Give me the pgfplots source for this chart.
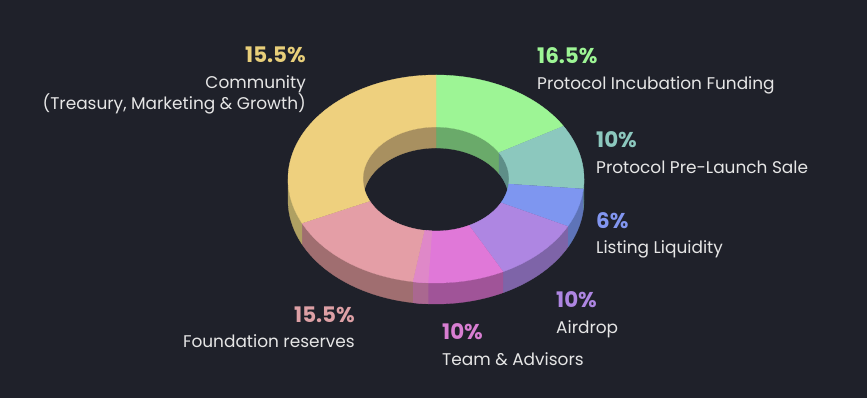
\documentclass[border=0pt]{standalone}
\usepackage{pgfplots}
\pgfplotsset{compat=1.18}
\usepackage{fontspec}
\setmainfont{Poppins}
\definecolor{bg}{HTML}{1F212A}
\definecolor{lbl}{HTML}{E6E6E6}
% top faces
\definecolor{cGreen}{HTML}{9DF595}
\definecolor{cTeal}{HTML}{8CC8BE}
\definecolor{cBlue}{HTML}{7E96F0}
\definecolor{cPurple}{HTML}{AE86E2}
\definecolor{cMag}{HTML}{E078D8}
\definecolor{cStrip}{HTML}{DF88C8}
\definecolor{cPink}{HTML}{E49EA6}
\definecolor{cYel}{HTML}{EED07E}
% side walls
\definecolor{sTeal}{HTML}{5E8E88}
\definecolor{sBlue}{HTML}{5E74B8}
\definecolor{sPurple}{HTML}{7E64A8}
\definecolor{sMag}{HTML}{A05498}
\definecolor{sStrip}{HTML}{AA6890}
\definecolor{sPink}{HTML}{A06E70}
\definecolor{sYel}{HTML}{AFA062}
% inner walls
\definecolor{iGreen}{HTML}{6AAA6A}
\definecolor{iTeal}{HTML}{5E8E88}
\definecolor{iYel}{HTML}{A89060}
% text colours
\definecolor{tYel}{HTML}{E8CF7A}
\definecolor{tGreen}{HTML}{9DF595}
\definecolor{tTeal}{HTML}{8CC8BE}
\definecolor{tBlue}{HTML}{8296F0}
\definecolor{tPurple}{HTML}{AE86E2}
\definecolor{tMag}{HTML}{D87ED2}
\definecolor{tPink}{HTML}{DDA0A5}

% #1 th1, #2 th2, #3 a1, #4 b1, #5 off1, #6 a2, #7 b2, #8 off2, #9 colour
\newcommand{\band}[9]{%
  \pgfmathsetmacro\thA{#1}\pgfmathsetmacro\thB{#2}%
  \addplot[fill=#9, draw=#9, line width=0.3pt, variable=\t, domain=0:1, samples=201, forget plot]
  ({436+ifthenelse(\t<0.5,#3,#6)*cos(ifthenelse(\t<0.5,(\thA)+((\thB)-(\thA))*min(\t/0.45,1),(\thB)-((\thB)-(\thA))*max(0,min((\t-0.55)/0.45,1))))},
   {219+ifthenelse(\t<0.5,#5,#8)+ifthenelse(\t<0.5,#4,#7)*sin(ifthenelse(\t<0.5,(\thA)+((\thB)-(\thA))*min(\t/0.45,1),(\thB)-((\thB)-(\thA))*max(0,min((\t-0.55)/0.45,1))))});
}
% top face of a slice: #1 cumulative start (%), #2 value (%), #3 colour
\newcommand{\topface}[3]{\band{90-3.6*(#1)}{90-3.6*(#1+#2)}{148}{104}{0}{73}{52}{0}{#3}}
% front outer wall (visible between 0 and -180 degrees)
\newcommand{\outerwall}[3]{\band{min(0,90-3.6*(#1))}{max(-180,90-3.6*(#1+#2))}{148}{104}{0}{148}{104}{-21}{#3}}

\newcommand{\pct}[1]{{\fontsize{21.5}{21.5}\selectfont\bfseries #1}}
\newcommand{\lab}[1]{{\fontsize{17}{17}\selectfont #1}}

\begin{document}
\begin{tikzpicture}
\begin{axis}[
  at={(0,0)}, anchor=south west,
  width=867bp, height=398bp, scale only axis,
  xmin=0, xmax=867, ymin=0, ymax=398,
  axis line style={draw=none}, ticks=none,
  axis background/.style={fill=bg},
  clip=false,
]
% ---- outer (front) walls ----
\outerwall{16.5}{10}{sTeal}
\outerwall{26.5}{6}{sBlue}
\outerwall{32.5}{10}{sPurple}
\outerwall{42.5}{10}{sMag}
\band{-93}{-99}{148}{104}{0}{148}{104}{-21}{sStrip}
\outerwall{52.5}{15.5}{sPink}
\outerwall{68}{32}{sYel}
% ---- inner (back) walls ----
\band{90-3.6*0}{90-3.6*16.5}{73}{52}{0}{73}{52}{-21}{iGreen}
\band{90-3.6*16.5}{0}{73}{52}{0}{73}{52}{-21}{iTeal}
\band{-180}{90-3.6*100}{73}{52}{0}{73}{52}{-21}{iYel}
% ---- top faces ----
\topface{0}{16.5}{cGreen}
\topface{16.5}{10}{cTeal}
\topface{26.5}{6}{cBlue}
\topface{32.5}{10}{cPurple}
\topface{42.5}{10}{cMag}
\band{-93}{-99}{148}{104}{0}{73}{52}{0}{cStrip}
\topface{52.5}{15.5}{cPink}
\topface{68}{32}{cYel}
% ---- labels ----
\node[anchor=base east, inner sep=0, text=tYel] at (axis cs:306,335) {\pct{15.5\%}};
\node[anchor=base east, inner sep=0, text=lbl] at (axis cs:306,309) {\lab{Community}};
\node[anchor=base east, inner sep=0, text=lbl] at (axis cs:306,288) {\lab{(Treasury, Marketing \& Growth)}};
\node[anchor=base west, inner sep=0, text=tGreen] at (axis cs:537,334) {\pct{16.5\%}};
\node[anchor=base west, inner sep=0, text=lbl] at (axis cs:537,308) {\lab{Protocol Incubation Funding}};
\node[anchor=base west, inner sep=0, text=tTeal] at (axis cs:596,250) {\pct{10\%}};
\node[anchor=base west, inner sep=0, text=lbl] at (axis cs:596,224) {\lab{Protocol Pre-Launch Sale}};
\node[anchor=base west, inner sep=0, text=tBlue] at (axis cs:596,169) {\pct{6\%}};
\node[anchor=base west, inner sep=0, text=lbl] at (axis cs:596,144) {\lab{Listing Liquidity}};
\node[anchor=base west, inner sep=0, text=tPurple] at (axis cs:556,90) {\pct{10\%}};
\node[anchor=base west, inner sep=0, text=lbl] at (axis cs:556,64) {\lab{Airdrop}};
\node[anchor=base west, inner sep=0, text=tMag] at (axis cs:442,58) {\pct{10\%}};
\node[anchor=base west, inner sep=0, text=lbl] at (axis cs:442,32) {\lab{Team \& Advisors}};
\node[anchor=base east, inner sep=0, text=tPink] at (axis cs:355,75) {\pct{15.5\%}};
\node[anchor=base east, inner sep=0, text=lbl] at (axis cs:355,50) {\lab{Foundation reserves}};
\end{axis}
\end{tikzpicture}
\end{document}
